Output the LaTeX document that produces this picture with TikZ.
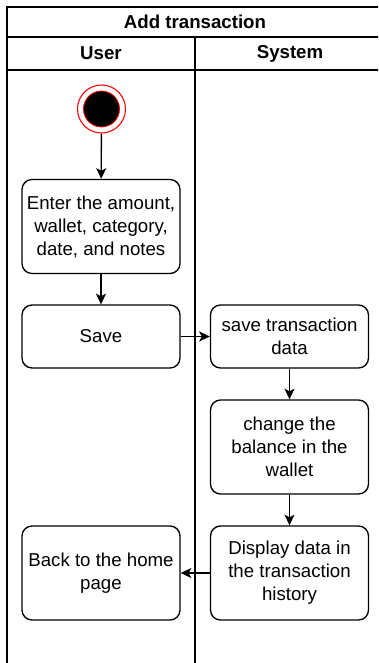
\documentclass[tikz,border=0pt]{standalone}
\usepackage{fontspec}
\setmainfont{Liberation Sans}
\usetikzlibrary{arrows.meta}
\tikzset{
  act/.style={draw=black, line width=1pt, rounded corners=7.5pt, fill=white,
    minimum width=118.5pt, inner sep=0pt, align=center,
    font=\fontsize{14pt}{17.25pt}\selectfont},
  tall/.style={minimum height=70.5pt},
  short/.style={minimum height=47.25pt},
  lane/.style={line width=1pt, draw=black},
  head/.style={font=\fontsize{14pt}{17pt}\selectfont\bfseries, inner sep=0pt},
  flow/.style={line width=1pt, -{Stealth[length=8pt,width=7.5pt,inset=2pt]}},
}
\begin{document}
\begin{tikzpicture}[x=0.75pt,y=-0.75pt]
\clip (0,0) rectangle (378,663);
\fill[white] (0,0) rectangle (378,663);
% pool
\draw[lane] (7,700) -- (7,7) -- (390,7);
\draw[lane] (7,37) -- (390,37);
\draw[lane] (7,70) -- (390,70);
\draw[lane] (195,37) -- (195,700);
\node[head] (title) at (195,22) {Add transaction};
\node[head] (user) at (101,53.5) {User};
\node[head] (system) at (290,53.5) {System};
% start
\node[circle, draw=red, line width=0.8pt, minimum size=36pt, inner sep=0pt] (start) at (101.5,109) {};
\fill[black, draw=red, line width=0.6pt] (start.center) circle (13.5pt);
% activities
\node[act, tall] (enter) at (101,226.5) {Enter the amount,\\wallet, category,\\date, and notes};
\node[act, short] (save) at (101,336.5) {Save};
\node[act, short] (savetx) at (289.5,336.5) {save transaction\\data};
\node[act, tall] (change) at (289.5,447) {change the\\balance in the\\wallet};
\node[act, tall] (display) at (289.5,573) {Display data in\\the transaction\\history};
\node[act, tall] (back) at (101,573) {Back to the home\\page};
% flows
\draw[flow] (start) -- (enter);
\draw[flow] (enter) -- (save);
\draw[flow] (save) -- (savetx);
\draw[flow] (savetx) -- (change);
\draw[flow] (change) -- (display);
\draw[flow] (display) -- (back);
\end{tikzpicture}
\end{document}
